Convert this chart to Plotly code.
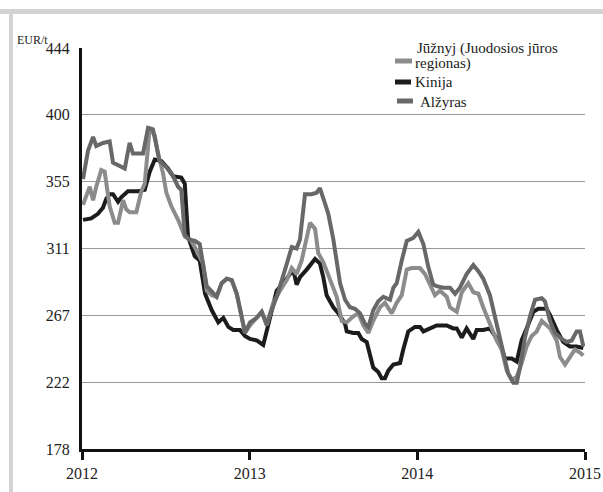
import plotly.graph_objects as go

# ---- data (x = years after 2012, y = EUR/t) ----
kin_t = [0.006,0.055,0.095,0.125,0.145,0.165,0.185,0.215,0.234,0.274,0.334,0.374,0.404,0.434,0.473,0.513,0.543,0.592,0.613,0.632,
         0.672,0.702,0.734,0.774,0.813,0.843,0.873,0.902,0.942,0.972,1.002,1.042,1.081,1.102,1.131,1.161,1.201,1.230,1.260,1.280,
         1.300,1.340,1.390,1.419,1.439,1.459,1.499,1.529,1.569,1.579,1.618,1.648,1.668,1.698,1.718,1.737,1.767,1.787,1.807,1.827,
         1.857,1.897,1.916,1.946,1.986,2.016,2.036,2.076,2.115,2.175,2.214,2.235,2.265,2.294,2.334,2.354,2.393,2.433,2.463,2.493,
         2.523,2.563,2.593,2.622,2.652,2.692,2.721,2.771,2.791,2.831,2.870,2.910,2.950,2.990]
kin_v = [330,331,334,338,344,347,347,342,345,349,349,350,362,370,369,364,359,358,354,319,
         306,303,281,270,262,265,259,257,257,253,251,250,247,257,270,283,288,293,297,287,
         292,297,304,301,292,280,272,268,261,256,255,255,251,249,239,232,229,225,225,230,
         234,235,244,256,259,259,256,258,260,260,258,258,252,258,251,257,257,258,253,248,
         238,238,236,250,258,269,271,271,267,257,249,246,246,245]

jz_t = [0.006,0.046,0.066,0.085,0.115,0.135,0.165,0.195,0.215,0.245,0.264,0.284,0.324,0.354,0.374,0.404,0.434,0.453,0.483,0.503,
        0.533,0.573,0.613,0.652,0.682,0.702,0.722,0.744,0.774,0.803,0.833,0.863,0.893,0.923,0.952,0.972,1.002,1.042,1.072,1.102,
        1.141,1.181,1.221,1.251,1.280,1.310,1.340,1.360,1.390,1.409,1.439,1.479,1.519,1.549,1.579,1.618,1.648,1.678,1.708,1.737,
        1.777,1.807,1.847,1.877,1.907,1.937,1.966,2.016,2.046,2.076,2.105,2.135,2.175,2.195,2.235,2.265,2.304,2.334,2.364,2.393,
        2.433,2.473,2.503,2.533,2.563,2.593,2.622,2.652,2.682,2.712,2.742,2.771,2.791,2.831,2.851,2.881,2.910,2.940,2.970,2.990]
jz_v = [340,352,343,352,363,362,339,328,328,343,337,335,335,349,354,391,386,374,361,348,
        339,330,319,316,310,306,301,283,280,279,288,291,290,281,266,255,260,265,269,261,
        275,283,290,298,294,303,319,328,324,308,302,290,279,263,262,266,268,260,255,263,
        272,275,268,275,280,297,298,298,294,287,280,283,279,272,269,282,288,282,281,272,
        261,250,244,230,224,226,235,246,253,256,263,260,258,250,239,234,239,244,242,240]

alz_t = [0.006,0.036,0.066,0.085,0.125,0.165,0.185,0.225,0.255,0.284,0.304,0.364,0.394,0.423,0.441,0.463,0.503,0.543,0.573,0.592,
         0.613,0.638,0.674,0.702,0.744,0.783,0.803,0.833,0.863,0.893,0.923,0.952,0.972,1.002,1.042,1.072,1.102,1.131,1.161,1.211,
         1.251,1.280,1.300,1.330,1.370,1.400,1.419,1.449,1.469,1.499,1.519,1.539,1.569,1.598,1.628,1.658,1.688,1.708,1.737,1.767,
         1.797,1.837,1.857,1.877,1.907,1.937,1.976,2.006,2.036,2.065,2.095,2.115,2.155,2.195,2.225,2.254,2.294,2.334,2.364,2.393,
         2.433,2.463,2.493,2.523,2.542,2.572,2.593,2.612,2.642,2.672,2.702,2.742,2.761,2.791,2.821,2.861,2.891,2.921,2.950,2.970,2.990]
alz_v = [357,376,385,379,381,382,368,366,364,381,374,374,391,390,379,369,365,359,352,350,
         320,317,316,314,286,281,279,288,291,290,281,266,255,262,265,269,260,270,279,297,
         312,311,317,347,347,348,351,341,334,317,301,288,277,272,271,268,261,259,270,276,
         279,277,285,288,303,316,318,322,314,299,287,286,285,285,281,285,294,300,296,291,
         280,266,252,239,228,222,222,232,252,266,277,278,276,263,255,251,249,250,256,256,246]

start_year = 2012
y_ticks = [178, 222.33, 266.67, 311, 355.33, 399.67, 444]
y_labels = ["178", "222", "267", "311", "355", "400", "444"]
x_ticks = [2012, 2013, 2014, 2015]
x_labels = ["2012", "2013", "2014", "2015"]

series_names = ["Jūžnyj (Juodosios jūros regionas)", "Kinija", "Alžyras"]
legend_lines = [["Jūžnyj (Juodosios jūros", "regionas)"], ["Kinija"], ["Alžyras"]]
colors = ["#8c8c8c", "#1c1c1c", "#686868"]

FONT = "Liberation Serif"

fig = go.Figure()
# draw order: Kinija, Jūžnyj, Alžyras
fig.add_trace(go.Scatter(x=[start_year + t for t in kin_t], y=kin_v, mode="lines", name=series_names[1],
                         line=dict(color=colors[1], width=4)))
fig.add_trace(go.Scatter(x=[start_year + t for t in jz_t], y=jz_v, mode="lines", name=series_names[0],
                         line=dict(color=colors[0], width=4)))
fig.add_trace(go.Scatter(x=[start_year + t for t in alz_t], y=alz_v, mode="lines", name=series_names[2],
                         line=dict(color=colors[2], width=4)))

W, H = 603, 492
L, R, T, B = 82, 18, 48, 43
pw, ph = W - L - R, H - T - B

def px_x(px):
    return (px - L) / pw

def px_y(py):
    return (H - B - py) / ph

shapes = [
    dict(type="rect", xref="paper", yref="paper", x0=px_x(0), x1=px_x(603), y0=px_y(9), y1=px_y(14),
         fillcolor="#d3d3d3", line=dict(width=0), layer="below"),
    dict(type="rect", xref="paper", yref="paper", x0=px_x(9), x1=px_x(13), y0=px_y(9), y1=px_y(492),
         fillcolor="#d3d3d3", line=dict(width=0), layer="below"),
]
annotations = [dict(text="EUR/t", xref="paper", yref="paper", x=px_x(15), y=px_y(40),
                    xanchor="left", yanchor="middle", showarrow=False,
                    font=dict(size=12, family=FONT, color="#222"))]

# hand-made legend (symbol + text lines)
sym_y = [61, 82, 101]
sym_x = [(395, 412), (395, 411), (397, 413)]
text_pos = [[(415, 48), (413, 64)], [(413, 82)], [(418, 102)]]
for i in range(3):
    shapes.append(dict(type="line", xref="paper", yref="paper",
                       x0=px_x(sym_x[i][0]), x1=px_x(sym_x[i][1]), y0=px_y(sym_y[i]), y1=px_y(sym_y[i]),
                       line=dict(color=colors[i], width=5)))
    for line_text, (tx, ty) in zip(legend_lines[i], text_pos[i]):
        annotations.append(dict(text=line_text, xref="paper", yref="paper", x=px_x(tx), y=px_y(ty),
                                xanchor="left", yanchor="middle", showarrow=False,
                                font=dict(size=15, family=FONT, color="#222")))

fig.update_layout(
    width=W, height=H, autosize=False,
    margin=dict(l=L, r=R, t=T, b=B, pad=0),
    paper_bgcolor="white", plot_bgcolor="white",
    font=dict(family=FONT, size=16, color="#222"),
    showlegend=False,
    xaxis=dict(range=[2012, 2015], tickvals=x_ticks, ticktext=x_labels, showgrid=False,
               showline=True, linecolor="#111", linewidth=3, ticks="outside", ticklen=8,
               tickwidth=3, tickcolor="#111", zeroline=False, automargin=False,
               tickfont=dict(size=16, family=FONT)),
    yaxis=dict(range=[178, 444], tickvals=y_ticks, ticktext=y_labels, showgrid=True,
               gridcolor="#999", gridwidth=1, showline=True, linecolor="#111", linewidth=3,
               ticks="", zeroline=False, ticklabelstandoff=6, automargin=False,
               tickfont=dict(size=16, family=FONT)),
    annotations=annotations,
    shapes=shapes,
)

fig.write_html("out.html", config={"displayModeBar": False, "responsive": False},
               post_script="document.body.style.margin='0';")
